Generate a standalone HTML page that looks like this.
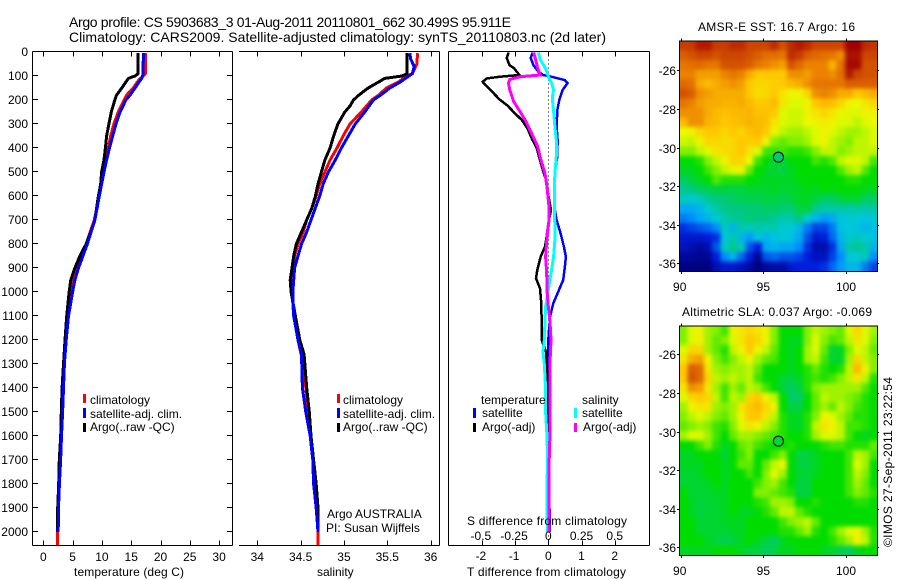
<!DOCTYPE html>
<html>
<head>
<meta charset="utf-8">
<title>Argo profile</title>
<style>
html,body{margin:0;padding:0;background:#fff;width:900px;height:580px;overflow:hidden}
svg{display:block}
text{font-family:"Liberation Sans",sans-serif;font-size:12px;fill:#000}
.ttl{font-size:14px}
</style>
</head>
<body>
<svg id="fig" xmlns="http://www.w3.org/2000/svg" width="900" height="580" viewBox="0 0 900 580">
<defs>
<filter id="map-soften" filterUnits="userSpaceOnUse" x="600" y="0" width="300" height="580" color-interpolation-filters="sRGB">
<feGaussianBlur stdDeviation="2"/>
</filter>
<clipPath id="sst-clip"><rect x="679" y="40.7" width="199" height="230.3"/></clipPath>
<clipPath id="sla-clip"><rect x="679" y="325.7" width="199" height="229.3"/></clipPath>
</defs>
<rect x="0" y="0" width="900" height="580" fill="#fff"/>
<g id="maps"></g>
<g id="axes"></g>
<g id="lines"></g>
<g id="labels"></g>

<text class="ttl" x="69" y="27" textLength="442">Argo profile: CS 5903683_3 01-Aug-2011 20110801_662 30.499S 95.911E</text>
<text class="ttl" x="69" y="42" textLength="537">Climatology: CARS2009. Satellite-adjusted climatology: synTS_20110803.nc (2d later)</text>

<text x="74" y="576" textLength="110">temperature (deg C)</text>
<text x="317" y="576">salinity</text>
<text x="467" y="576" textLength="159">T difference from climatology</text>
<text x="467" y="525" textLength="160">S difference from climatology</text>

<g>
<rect x="83" y="394" width="3" height="9" fill="#f00"/>
<rect x="83" y="408" width="3" height="10" fill="#00f"/>
<rect x="83" y="423" width="3" height="9" fill="#000"/>
<text x="90" y="404">climatology</text>
<text x="90" y="418">satellite-adj. clim.</text>
<text x="90" y="431">Argo(..raw -QC)</text>
</g>
<g>
<rect x="337" y="394" width="3" height="9" fill="#f00"/>
<rect x="337" y="408" width="3" height="10" fill="#00f"/>
<rect x="337" y="423" width="3" height="9" fill="#000"/>
<text x="343" y="404">climatology</text>
<text x="343" y="418">satellite-adj. clim.</text>
<text x="343" y="431">Argo(..raw -QC)</text>
</g>
<text x="327" y="518">Argo AUSTRALIA</text>
<text x="326" y="532">PI: Susan Wijffels</text>

<g>
<text x="481" y="404">temperature</text>
<rect x="473" y="408" width="3" height="10" fill="#00f"/>
<text x="482" y="417">satellite</text>
<rect x="473" y="423" width="3" height="9" fill="#000"/>
<text x="482" y="431">Argo(-adj)</text>
<text x="582" y="404">salinity</text>
<rect x="574" y="408" width="3" height="10" fill="#0ff"/>
<text x="582" y="417">satellite</text>
<rect x="574" y="423" width="3" height="9" fill="#f0f"/>
<text x="583" y="431">Argo(-adj)</text>
</g>

<text x="698" y="31" textLength="157">AMSR-E SST: 16.7 Argo: 16</text>
<text x="682" y="316" textLength="190">Altimetric SLA: 0.037 Argo: -0.069</text>
<text transform="translate(892,547) rotate(-90)" textLength="170">©IMOS 27-Sep-2011 23:22:54</text>
</svg>
<script>
// ---------- profile data (depth in dbar, one depth array per series) ----------
const yTicks = [0,100,200,300,400,500,600,700,800,900,1000,1100,1200,1300,1400,1500,1600,1700,1800,1900,2000];
const tempTicks = [0,5,10,15,20,25,30];
const salTicks = [34,34.5,35,35.5,36];
const diffTTicks = [-2,-1,0,1,2];
const diffSTicks = [-0.5,-0.25,0,0.25,0.5];
const mapLonTicks = [90,95,100];
const mapLatTicks = [-26,-28,-30,-32,-34,-36];

const argoTempDepth = [5,90,100,110,125,150,180,200,250,300,350,400,450,500,550,600,650,700,750,800,850,900,950,1000,1100,1200,1300,1400,1500,1600,1700,1800,1900,2000];
const argoTemp = [16.2,16.2,15.65,14.5,14.1,13.4,12.5,12.2,11.6,11.2,10.8,10.6,10.35,9.95,9.8,9.4,9.1,8.8,8.1,7.3,6.25,5.4,4.7,4.4,4.0,3.7,3.45,3.2,3.07,2.97,2.73,2.63,2.45,2.4];
const climTempDepth = [5,90,100,120,150,180,200,250,300,350,400,450,500,600,700,800,900,950,1000,1100,1200,1300,1400,1500,1600,1700,1800,1900,2000,2054];
const climTemp = [17.47,17.4,17.05,16.2,15.35,14.2,13.8,12.8,12.05,11.5,11.1,10.7,10.25,9.55,8.7,7.3,5.8,5.2,4.85,4.2,3.85,3.55,3.35,3.2,3.0,2.85,2.7,2.55,2.4,2.4];
const satTempDepth = [5,90,110,130,150,180,200,250,300,350,400,450,500,600,700,800,900,950,1000,1100,1200,1300,1400,1500,1600,1700,1800,1900,2000];
const satTemp = [17.07,17.05,16.8,16.2,15.65,14.8,14.1,13.1,12.4,11.85,11.3,10.8,10.35,9.55,8.8,7.5,6.0,5.4,5.0,4.3,3.9,3.6,3.45,3.3,3.1,2.95,2.75,2.6,2.55];

const argoSalDepth = [5,90,100,105,110,125,150,180,200,225,250,300,350,400,450,500,550,600,650,700,750,800,850,900,950,1000,1100,1200,1260,1400,1500,1600,1700,1800,1900,2000];
const argoSal = [35.73,35.73,35.67,35.57,35.47,35.4,35.28,35.17,35.11,35.07,35.01,34.93,34.88,34.84,34.78,34.74,34.7,34.67,34.63,34.57,34.51,34.45,34.42,34.4,34.38,34.39,34.44,34.49,34.54,34.57,34.6,34.62,34.65,34.68,34.7,34.7];
const climSalDepth = [5,50,90,105,125,150,180,200,250,300,350,400,450,500,550,600,650,700,750,800,850,900,1000,1100,1200,1300,1400,1500,1600,1700,1800,1900,2000,2054];
const climSal = [35.85,35.84,35.79,35.7,35.63,35.49,35.4,35.32,35.2,35.07,34.99,34.92,34.84,34.78,34.72,34.68,34.63,34.57,34.53,34.47,34.43,34.42,34.4,34.42,34.47,34.53,34.56,34.59,34.61,34.64,34.66,34.68,34.7,34.7];
const satSalDepth = [5,30,60,90,105,125,150,180,200,250,300,350,400,450,500,550,600,650,700,750,800,850,900,1000,1100,1200,1260,1400,1500,1600,1700,1800,1900,2000];
const satSal = [35.76,35.77,35.81,35.79,35.73,35.65,35.53,35.42,35.34,35.24,35.13,35.05,34.97,34.9,34.82,34.76,34.72,34.67,34.62,34.57,34.51,34.47,34.43,34.41,34.42,34.47,34.51,34.52,34.56,34.61,34.64,34.65,34.68,34.7];

const diffTArgoDepth = [2,25,55,68,96,103,110,124,144,165,200,221,256,283,318,360,400,436,485,533,603,658,714,770,811,853,908,943,985,1033,1117,1200,1250,1300,1400,1700];
const diffTArgo = [-1.2,-1.25,-1.17,-1.03,-0.87,-1.45,-1.85,-1.98,-1.85,-1.7,-1.45,-1.25,-1.0,-0.8,-0.63,-0.5,-0.35,-0.28,-0.18,-0.07,0.01,0.08,0,-0.05,-0.1,-0.23,-0.33,-0.37,-0.25,-0.22,-0.2,-0.2,-0.07,-0.05,0,0];
const diffTSatDepth = [2,25,55,82,96,105,117,130,158,200,242,311,367,436,478,547,644,700,756,811,853,894,950,992,1047,1103,1200,1300,1400,1600,1800,2000];
const diffTSat = [-0.47,-0.53,-0.45,-0.3,-0.15,0.15,0.5,0.58,0.43,0.33,0.27,0.25,0.28,0.27,0.22,0.18,0.18,0.25,0.37,0.47,0.53,0.5,0.45,0.32,0.15,0.05,0,0,0,0,0.02,0.05];
const diffSSatDepth = [2,33,68,103,130,158,193,249,311,367,436,506,575,644,728,783,853,922,992,1061,1117,1200,1250,1300,1400,1500,1600,1700,1800,1900,2000];
const diffSSat = [-0.075,-0.06,-0.02,0,0.025,0.04,0.03,0.04,0.05,0.06,0.06,0.05,0.045,0.045,0.05,0.05,0.04,0.02,0,-0.02,-0.025,-0.03,-0.04,-0.03,-0.02,-0.02,-0.01,-0.005,-0.01,-0.01,-0.005];
const diffSArgoDepth = [2,33,68,96,103,114,130,158,207,242,283,339,394,450,506,561,644,700,769,853,922,992,1061,1117,1200,1300,1400,1500,1600,1700,1800,1900,2000];
const diffSArgo = [-0.11,-0.095,-0.08,-0.06,-0.21,-0.29,-0.3,-0.29,-0.26,-0.22,-0.175,-0.125,-0.08,-0.055,-0.025,-0.01,0.005,0.005,-0.01,-0.02,-0.012,-0.01,0,0.012,0.02,0.012,0.012,0.012,0.012,0.007,0.007,0.007,0.007];

// ---------- map data: position on the colour scale, 0 (navy) to 100 (dark red) ----------
const argoLon = 95.911;
const argoLat = -30.499;
const sstArgoValue = 43;
const slaArgoValue = 47;
const sstGrid = [
[93,93,97,97,93,93,95,95,92,92,92,95,90,95,97,95,92,92,92,92,100,100,95,94],
[88,90,92,92,90,92,92,92,90,88,85,85,84,95,93,88,86,85,84,80,98,98,92,92],
[84,85,86,84,84,90,90,90,88,84,82,80,78,90,86,82,82,82,75,84,99,99,90,90],
[82,82,78,78,78,82,84,82,76,72,72,72,72,80,80,78,82,82,80,85,97,92,90,90],
[86,85,76,74,76,78,80,78,72,70,70,71,72,74,76,80,84,84,84,84,88,88,88,88],
[90,88,80,78,76,76,76,76,72,69,70,72,68,66,66,70,80,82,80,76,76,72,74,76],
[84,82,78,76,76,75,75,76,74,72,72,74,68,64,64,66,72,74,73,70,66,65,68,70],
[80,80,80,76,74,73,74,74,75,73,73,72,64,63,63,66,68,70,68,66,64,64,66,66],
[74,80,80,75,74,72,73,74,75,74,73,68,64,63,63,65,66,67,66,64,64,62,64,65],
[65,66,70,72,72,70,72,70,73,74,72,66,62,60,60,62,64,66,64,62,60,60,62,64],
[63,62,66,70,70,69,70,72,71,72,66,58,56,58,58,60,64,66,62,60,58,62,62,64],
[58,58,62,64,68,69,70,72,68,64,54,53,54,52,52,54,58,62,62,58,60,62,62,62],
[50,50,52,58,62,66,70,70,65,54,50,47,47,50,50,50,54,52,55,62,64,64,62,54],
[48,48,50,54,58,62,64,66,56,50,48,47,46,48,50,50,50,50,50,55,60,62,55,50],
[44,46,48,50,55,52,52,52,50,49,48,48,48,48,49,50,50,50,50,50,52,52,50,50],
[40,42,44,45,46,46,46,46,47,47,47,48,47,47,48,49,48,50,49,50,50,50,48,48],
[36,34,36,40,42,43,44,45,45,45,46,46,45,46,48,48,46,44,44,46,47,47,44,44],
[28,28,30,34,38,41,42,42,43,43,44,44,43,43,46,46,40,38,38,38,38,38,38,38],
[22,24,28,30,34,38,40,41,43,42,42,40,38,38,42,34,30,26,28,32,34,34,32,34],
[14,16,18,20,24,36,30,38,36,38,36,38,34,34,30,22,16,16,22,32,33,32,30,32],
[10,10,10,12,14,32,38,30,26,32,30,32,34,32,28,18,10,12,20,30,35,36,34,32],
[8,6,4,6,18,36,42,36,18,12,28,30,28,28,24,14,6,6,14,28,38,40,38,30],
[3,3,2,2,12,24,30,20,12,2,18,20,18,18,16,12,8,8,16,24,34,34,36,24],
[0,0,0,0,6,10,10,8,4,0,4,5,5,10,12,12,12,14,20,26,30,30,22,16]
];
const slaGrid = [
[58,64,66,60,58,54,66,68,70,68,66,58,50,50,50,58,62,60,58,56,64,70,64,60],
[58,64,66,60,56,58,64,68,72,70,66,58,50,48,48,58,64,58,54,56,62,68,64,58],
[64,70,70,60,56,52,62,66,72,66,62,56,50,48,50,60,64,56,47,48,58,64,62,56],
[68,76,78,66,58,54,58,62,66,60,56,54,50,48,50,60,62,54,47,47,60,70,62,58],
[72,88,86,68,60,58,60,60,62,56,50,50,50,48,50,52,56,52,50,52,62,74,66,58],
[72,90,86,70,62,60,62,60,62,54,50,50,47,46,48,52,54,52,54,58,62,68,62,52],
[68,80,78,68,60,54,60,56,62,60,54,50,46,44,46,52,58,60,60,60,60,60,55,50],
[64,70,72,70,62,54,62,60,70,72,66,62,50,44,44,50,56,62,60,60,58,56,52,50],
[60,66,68,68,60,58,60,68,72,74,70,66,50,46,46,50,56,60,56,62,58,54,52,50],
[58,62,64,62,58,56,60,66,72,72,68,62,52,48,48,52,58,66,64,60,56,52,52,50],
[56,58,60,58,54,52,58,64,68,66,62,58,52,48,48,52,62,68,66,62,54,54,52,50],
[60,64,64,60,54,50,56,60,60,58,56,54,52,50,50,52,60,64,64,62,54,50,48,50],
[50,50,54,58,52,48,50,56,58,54,52,50,50,52,50,50,50,52,54,54,52,52,52,56],
[48,48,50,50,50,47,50,54,58,50,50,54,58,50,46,46,48,50,50,50,54,62,60,54],
[48,48,48,50,50,48,50,56,56,50,56,62,66,50,46,46,48,50,50,50,54,64,60,50],
[47,47,48,50,50,48,50,50,54,50,58,64,60,50,47,47,48,50,50,50,54,62,58,50],
[47,47,47,48,50,48,50,50,50,54,58,60,54,50,46,46,50,50,50,50,54,60,56,50],
[50,47,47,47,48,48,50,50,50,58,58,56,54,52,46,46,50,50,50,50,54,58,56,52],
[50,48,46,47,47,48,50,50,50,52,54,60,60,58,50,50,52,50,50,50,50,52,52,50],
[50,48,46,47,47,48,50,48,48,50,52,56,62,62,56,52,50,50,50,50,50,50,50,50],
[50,50,47,47,47,48,48,48,50,50,50,50,54,58,60,62,56,50,50,50,50,50,50,50],
[50,50,47,47,47,47,48,48,50,50,50,50,52,52,56,60,52,50,54,60,64,66,60,52],
[50,50,50,48,46,45,46,48,50,48,46,44,48,50,50,50,50,50,52,56,60,66,62,52],
[48,48,48,48,50,50,50,48,46,46,44,46,48,48,50,50,50,48,47,45,44,48,50,50]
];

// ---------- axis functions ----------
const SVGNS = 'http://www.w3.org/2000/svg';
const depthY = d => 52 + 0.24 * d;
const tempX = t => 43.3 + 5.86 * t;
const salX = s => 257.3 + 86.67 * (s - 34);
const diffTX = t => 548.3 + 33.2 * t;
const diffSX = s => diffTX(s * 4);
const PANEL_TOP = 51.5, PANEL_BOTTOM = 545.5;

function make(tag, attrs, parent) {
  const el = document.createElementNS(SVGNS, tag);
  for (const k in attrs) el.setAttribute(k, attrs[k]);
  parent.appendChild(el);
  return el;
}
const axesG = document.getElementById('axes');
const linesG = document.getElementById('lines');
const labelsG = document.getElementById('labels');
const mapsG = document.getElementById('maps');

function axisLine(x1, y1, x2, y2, parent) {
  const el = make('line', {x1, y1, x2, y2, stroke: '#000', 'stroke-width': 1, 'shape-rendering': 'crispEdges'}, parent);
  
  
  return el;
}
function tickMark(x1, y1, x2, y2, parent) {
  const el = make('line', {x1, y1, x2, y2, stroke: '#000', 'stroke-width': 1, 'shape-rendering': 'crispEdges'}, parent);
  
  
  return el;
}
function tickLabel(txt, x, y, anchor) {
  const el = make('text', {x, y, 'text-anchor': anchor}, labelsG);
  el.textContent = txt;
  
  
  return el;
}
function profile(depths, values, xf, color, width, name) {
  let pts = '';
  for (let i = 0; i < depths.length; i++) {
    pts += xf(values[i]).toFixed(1) + ',' + depthY(depths[i]).toFixed(1) + ' ';
  }
  const el = make('polyline', {points: pts.trim(), fill: 'none', stroke: color, 'stroke-width': width, 'stroke-linejoin': 'miter', 'shape-rendering': 'crispEdges'}, linesG);
  
  
}

// ---------- panel frames ----------
axisLine(32.5, PANEL_TOP, 32.5, PANEL_BOTTOM, axesG);
axisLine(232.5, PANEL_TOP, 232.5, PANEL_BOTTOM, axesG);
axisLine(32.5, PANEL_TOP, 232.5, PANEL_TOP, axesG);
axisLine(32.5, PANEL_BOTTOM, 232.5, PANEL_BOTTOM, axesG);
axisLine(239, PANEL_TOP, 439.5, PANEL_TOP, axesG);
axisLine(239, PANEL_BOTTOM, 439.5, PANEL_BOTTOM, axesG);
axisLine(439.5, PANEL_TOP, 439.5, PANEL_BOTTOM, axesG);
axisLine(448.5, PANEL_TOP, 448.5, PANEL_BOTTOM, axesG);
axisLine(649.5, PANEL_TOP, 649.5, PANEL_BOTTOM, axesG);
axisLine(448.5, PANEL_TOP, 649.5, PANEL_TOP, axesG);
axisLine(448.5, PANEL_BOTTOM, 649.5, PANEL_BOTTOM, axesG);

// ---------- ticks and labels ----------
yTicks.forEach(d => {
  const y = Math.round(depthY(d)) - 0.5;
  tickMark(32.5, y, 38, y, axesG);
  tickMark(227, y, 232.5, y, axesG);
  tickLabel(String(d), 28, y + 4.5, 'end');
});
tempTicks.forEach(t => {
  const x = Math.round(tempX(t)) + 0.5;
  tickMark(x, PANEL_TOP, x, PANEL_TOP + 5, axesG);
  tickMark(x, PANEL_BOTTOM, x, PANEL_BOTTOM - 5, axesG);
  tickLabel(String(t), tempX(t), 561, 'middle');
});
salTicks.forEach(s => {
  const x = Math.round(salX(s)) + 0.5;
  tickMark(x, PANEL_TOP, x, PANEL_TOP + 5, axesG);
  tickMark(x, PANEL_BOTTOM, x, PANEL_BOTTOM - 5, axesG);
  tickLabel(String(s), salX(s), 561, 'middle');
});
diffTTicks.forEach(t => {
  const x = Math.round(diffTX(t)) + 0.5;
  tickMark(x, PANEL_BOTTOM, x, PANEL_BOTTOM - 5, axesG);
  tickLabel(String(t), diffTX(t) - (t < 0 ? 1 : 0), 560, 'middle');
});
diffSTicks.forEach(s => {
  const x = Math.round(diffSX(s)) + 0.5;
  tickMark(x, PANEL_TOP, x, PANEL_TOP + 5, axesG);
  tickLabel(String(s), diffSX(s) - (s < 0 ? 1 : 0), 540, 'middle');
});

// ---------- zero line in difference panel ----------
const zeroLine = make('line', {x1: diffTX(0), y1: PANEL_TOP, x2: diffTX(0), y2: PANEL_BOTTOM, stroke: '#000', 'stroke-width': 1, 'stroke-dasharray': '1 3', 'shape-rendering': 'crispEdges'}, axesG);



// ---------- profile series ----------
profile(climTempDepth, climTemp, tempX, '#f00', 3, 'temperature-climatology-line');
profile(argoTempDepth, argoTemp, tempX, '#000', 3, 'temperature-argo-line');
profile(satTempDepth, satTemp, tempX, '#00f', 3, 'temperature-satellite-line');
profile(climSalDepth, climSal, salX, '#f00', 3, 'salinity-climatology-line');
profile(argoSalDepth, argoSal, salX, '#000', 3, 'salinity-argo-line');
profile(satSalDepth, satSal, salX, '#00f', 3, 'salinity-satellite-line');
profile(diffTSatDepth, diffTSat, diffTX, '#00f', 2.5, 't-difference-satellite-line');
profile(diffTArgoDepth, diffTArgo, diffTX, '#000', 2.5, 't-difference-argo-line');
profile(diffSSatDepth, diffSSat, diffSX, '#0ff', 3, 's-difference-satellite-line');
profile(diffSArgoDepth, diffSArgo, diffSX, '#f0f', 3, 's-difference-argo-line');

// ---------- colour scale ----------
const colourStops = [
  [0,0,0,130],[12,0,30,220],[25,0,150,255],[33,0,200,220],[42,0,200,130],
  [50,0,220,0],[58,130,240,0],[65,235,250,0],[72,255,200,0],[82,235,130,0],
  [92,205,70,0],[100,160,0,0]
];
function colour(v) {
  v = Math.max(0, Math.min(100, v));
  for (let i = 1; i < colourStops.length; i++) {
    const a = colourStops[i - 1], b = colourStops[i];
    if (v <= b[0]) {
      const f = (v - a[0]) / (b[0] - a[0]);
      return 'rgb(' + [1, 2, 3].map(k => Math.round(a[k] + f * (b[k] - a[k]))).join(',') + ')';
    }
  }
  return 'rgb(160,0,0)';
}

// ---------- maps ----------
function drawMap(grid, lat26Y, top, bottom, argoValue, prefix) {
  const LEFT = 679, RIGHT = 878, BLEED = 10;
  const lonX = lon => 680.7 + 16.53 * (lon - 90);
  const latY = lat => lat26Y + 19.3 * (-26 - lat);
  const lonMin = (LEFT - 680.7) / 16.53 + 90;
  const latMax = -26 - (top - lat26Y) / 19.3;
  const lonStep = (RIGHT - LEFT) / 16.53 / grid[0].length;
  const latStep = (bottom - top) / 19.3 / grid.length;
  const clipG = make('g', {'clip-path': 'url(#' + prefix + '-clip)'}, mapsG);
  
  
  const cellsG = make('g', {filter: 'url(#map-soften)'}, clipG);
  
  
  grid.forEach((row, r) => {
    row.forEach((v, c) => {
      let x0 = lonX(lonMin + c * lonStep), x1 = lonX(lonMin + (c + 1) * lonStep);
      let y0 = latY(latMax - r * latStep), y1 = latY(latMax - (r + 1) * latStep);
      if (c === 0) x0 -= BLEED;
      if (c === row.length - 1) x1 += BLEED;
      if (r === 0) y0 -= BLEED;
      if (r === grid.length - 1) y1 += BLEED;
      const cell = make('rect', {x: x0, y: y0, width: x1 - x0 + 0.5, height: y1 - y0 + 0.5, fill: colour(v), 'shape-rendering': 'crispEdges'}, cellsG);
      
      
    });
  });
  const frame = make('rect', {x: LEFT + 0.5, y: top + 0.5, width: RIGHT - LEFT - 1, height: bottom - top, fill: 'none', stroke: '#000', 'stroke-width': 1, 'shape-rendering': 'crispEdges'}, mapsG);
  
  
  mapLonTicks.forEach(lon => {
    const x = Math.round(lonX(lon)) + 0.5;
    tickMark(x, bottom, x, bottom + 3, mapsG);
    tickMark(x, top - 2, x, top, mapsG);
    tickLabel(String(lon), lonX(lon) - (lon === 90 ? 1 : 0), bottom + 20, 'middle');
  });
  mapLatTicks.forEach(lat => {
    const y = Math.round(latY(lat)) + 0.5;
    tickMark(LEFT - 2, y, LEFT, y, mapsG);
    tickMark(RIGHT - 1, y, RIGHT + 1, y, mapsG);
    tickLabel(String(lat), 676, y + 4.5, 'end');
  });
  const marker = make('circle', {cx: lonX(argoLon), cy: latY(argoLat), r: 5, fill: colour(argoValue), stroke: '#000', 'stroke-width': 1}, mapsG);
  
  
}
drawMap(sstGrid, 70.3, 40.7, 271, sstArgoValue, 'sst');
drawMap(slaGrid, 354.3, 325.7, 555, slaArgoValue, 'sla');
</script>
</body>
</html>
